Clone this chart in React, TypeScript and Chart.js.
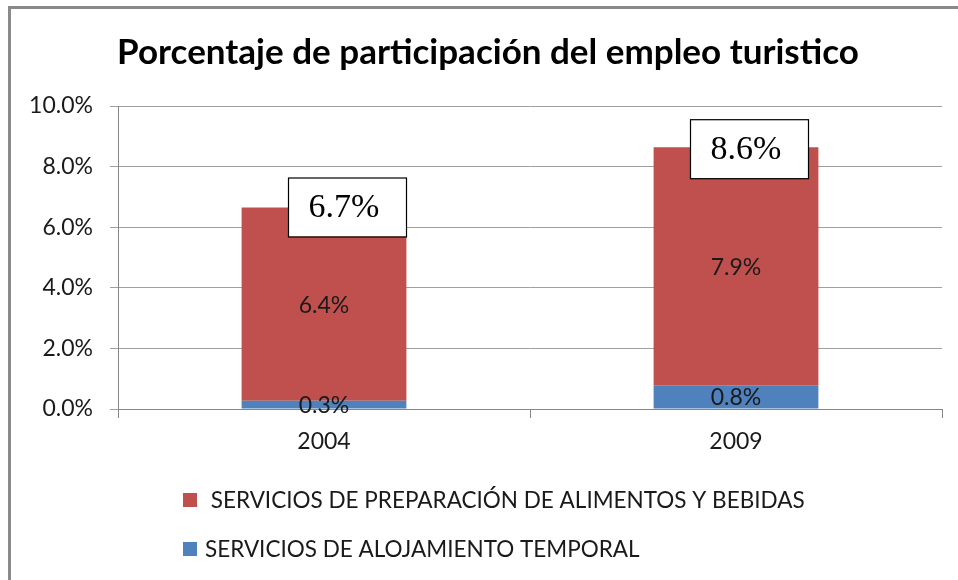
import React, { useEffect, useRef } from "react";
import { Chart, registerables } from "chart.js";

Chart.register(...registerables);

const categories = ["2004", "2009"];
const alojamiento = [0.27, 0.78];
const alimentos = [6.38, 7.86];
const totalLabels = [6.7, 8.6];
const seriesNames = [
  "SERVICIOS DE ALOJAMIENTO TEMPORAL",
  " SERVICIOS DE PREPARACIÓN DE ALIMENTOS Y BEBIDAS",
];
const yTicks = [0, 2, 4, 6, 8, 10];
const titleText = "Porcentaje de participación del empleo turistico";

const RED = "#C0504D";
const BLUE = "#4F81BD";
const SANS = "Lato, 'Open Sans', sans-serif";

const framePlugin = {
  id: "frame",
  beforeDraw(chart: any) {
    const ctx = chart.ctx;
    ctx.save();
    ctx.fillStyle = "#ffffff";
    ctx.fillRect(0, 0, chart.width, chart.height);
    ctx.strokeStyle = "#8a8a8a";
    ctx.lineWidth = 3;
    ctx.beginPath();
    ctx.moveTo(9.5, chart.height + 5);
    ctx.lineTo(9.5, 7.5);
    ctx.lineTo(chart.width + 5, 7.5);
    ctx.stroke();
    // title
    ctx.fillStyle = "#000000";
    ctx.font = `bold 35px ${SANS}`;
    ctx.textAlign = "center";
    ctx.textBaseline = "alphabetic";
    ctx.fillText(titleText, 488, 64);
    ctx.restore();
  },
};

const labelsPlugin = {
  id: "barLabels",
  afterDatasetsDraw(chart: any) {
    const ctx = chart.ctx;
    ctx.save();
    ctx.font = `23px ${SANS}`;
    ctx.fillStyle = "#1a1a1a";
    ctx.textAlign = "center";
    ctx.textBaseline = "middle";
    chart.data.datasets.forEach((ds: any, di: number) => {
      const meta = chart.getDatasetMeta(di);
      meta.data.forEach((bar: any, i: number) => {
        const v = ds.data[i] as number;
        ctx.fillText(v.toFixed(1) + "%", bar.x, (bar.y + bar.base) / 2 + 1);
      });
    });
    // total boxes
    const topMeta = chart.getDatasetMeta(chart.data.datasets.length - 1);
    const offX = [23, 13];
    const offY = [30, 28];
    const bw = 118;
    const bh = 59;
    topMeta.data.forEach((bar: any, i: number) => {
      const cx = bar.x + offX[i];
      const top = bar.y - offY[i];
      ctx.fillStyle = "#ffffff";
      ctx.fillRect(cx - bw / 2, top, bw, bh);
      ctx.strokeStyle = "#000000";
      ctx.lineWidth = 1.2;
      ctx.strokeRect(cx - bw / 2 + 0.5, top + 0.5, bw, bh);
      ctx.fillStyle = "#000000";
      ctx.font = "34px 'Liberation Serif', 'Times New Roman', serif";
      ctx.textAlign = "center";
      ctx.textBaseline = "middle";
      ctx.fillText(totalLabels[i].toFixed(1) + "%", cx - 3, top + bh / 2 + 1);
    });
    ctx.restore();
  },
};

const legendPlugin = {
  id: "customLegend",
  afterDraw(chart: any) {
    const ctx = chart.ctx;
    ctx.save();
    const items = [...chart.data.datasets].reverse();
    const rowsY = [500, 549];
    items.forEach((ds: any, r: number) => {
      const y = rowsY[r];
      ctx.fillStyle = ds.backgroundColor;
      ctx.fillRect(183, y - 7, 14, 14);
      ctx.fillStyle = "#1a1a1a";
      ctx.font = `22.5px ${SANS}`;
      ctx.textAlign = "left";
      ctx.textBaseline = "middle";
      ctx.fillText(ds.label, 205, y + 1);
    });
    ctx.restore();
  },
};

export default function App() {
  const ref = useRef<HTMLCanvasElement | null>(null);
  useEffect(() => {
    document.body.style.margin = "0";
    if (!ref.current) return;
    const chart = new Chart(ref.current, {
      type: "bar",
      data: {
        labels: categories,
        datasets: [
          { label: seriesNames[0], data: alojamiento, backgroundColor: BLUE },
          { label: seriesNames[1], data: alimentos, backgroundColor: RED },
        ],
      },
      options: {
        responsive: false,
        animation: false,
        devicePixelRatio: 1,
        layout: { padding: { left: 0, right: 16, top: 106, bottom: 0 } },
        plugins: {
          legend: { display: false },
          title: { display: false },
          tooltip: { enabled: false },
        },
        datasets: { bar: { categoryPercentage: 1, barPercentage: 0.4 } },
        scales: {
          x: {
            stacked: true,
            grid: {
              offset: true,
              drawOnChartArea: false,
              drawTicks: true,
              tickLength: 9,
              color: "#868686",
            },
            border: { display: true, color: "#868686", width: 1 },
            ticks: {
              color: "#1a1a1a",
              font: { family: SANS, size: 23 },
              padding: 10,
            },
            afterFit: (s: any) => {
              s.height = 171;
            },
          },
          y: {
            stacked: true,
            min: 0,
            max: 10,
            afterBuildTicks: (s: any) => {
              s.ticks = yTicks.map((v) => ({ value: v }));
            },
            grid: { color: "#a0a0a0", tickLength: 8, drawTicks: true },
            border: { display: true, color: "#868686", width: 1 },
            ticks: {
              color: "#1a1a1a",
              font: { family: SANS, size: 23 },
              padding: 17,
              callback: (v: any) => Number(v).toFixed(1) + "%",
            },
            afterFit: (s: any) => {
              s.width = 118;
            },
          },
        },
      },
      plugins: [framePlugin, labelsPlugin, legendPlugin],
    });
    return () => chart.destroy();
  }, []);
  return (
    <div style={{ width: 958, height: 580 }}>
      <canvas ref={ref} width={958} height={580} style={{ display: "block" }} />
    </div>
  );
}
